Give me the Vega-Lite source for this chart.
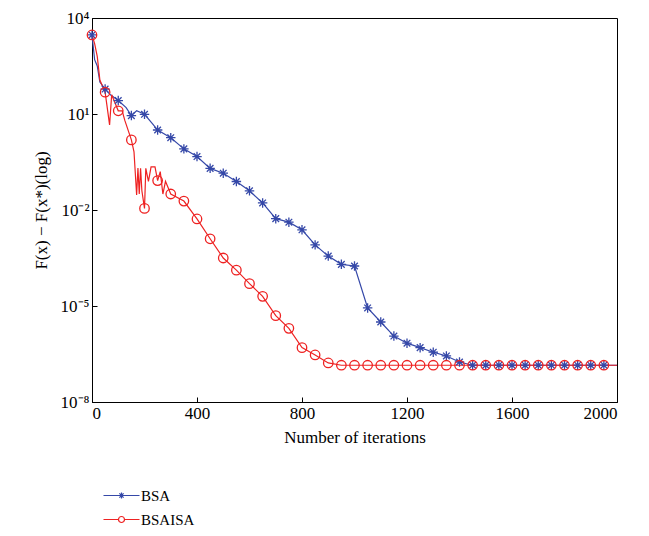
{
  "$schema": "https://vega.github.io/schema/vega-lite/v6.json",
  "width": 525,
  "height": 384,
  "autosize": "none",
  "padding": {"left": 92, "top": 18, "right": 32, "bottom": 134},
  "config": {
    "font": "Liberation Serif",
    "view": {"stroke": "black", "strokeWidth": 1},
    "axis": {"labelFont": "Liberation Serif", "titleFont": "Liberation Serif", "labelFontSize": 17, "titleFontSize": 17, "titleFontWeight": "normal", "labelColor": "black", "titleColor": "black", "domainColor": "black", "tickColor": "black", "tickSize": -5, "grid": false, "labelPadding": 8}
  },
  "data": {"values": [
    {"s":"BSA","it":0,"v":2951,"m":1},{"s":"BSA","it":10,"v":501,"m":0},{"s":"BSA","it":20,"v":316,"m":0},{"s":"BSA","it":30,"v":100,"m":0},
    {"s":"BSA","it":50,"v":60.3,"m":1},{"s":"BSA","it":70,"v":39.8,"m":0},{"s":"BSA","it":100,"v":26.3,"m":1},{"s":"BSA","it":130,"v":15.8,"m":0},
    {"s":"BSA","it":150,"v":8.91,"m":1},{"s":"BSA","it":170,"v":12.6,"m":0},{"s":"BSA","it":200,"v":9.77,"m":1},{"s":"BSA","it":230,"v":5.01,"m":0},
    {"s":"BSA","it":250,"v":3.16,"m":1},{"s":"BSA","it":300,"v":1.82,"m":1},{"s":"BSA","it":350,"v":0.813,"m":1},{"s":"BSA","it":400,"v":0.468,"m":1},
    {"s":"BSA","it":450,"v":0.2,"m":1},{"s":"BSA","it":500,"v":0.141,"m":1},{"s":"BSA","it":550,"v":0.0776,"m":1},{"s":"BSA","it":600,"v":0.0398,"m":1},
    {"s":"BSA","it":650,"v":0.0166,"m":1},{"s":"BSA","it":700,"v":0.00537,"m":1},{"s":"BSA","it":750,"v":0.00417,"m":1},{"s":"BSA","it":800,"v":0.0024,"m":1},
    {"s":"BSA","it":850,"v":0.000813,"m":1},{"s":"BSA","it":900,"v":0.000363,"m":1},{"s":"BSA","it":950,"v":0.0002,"m":1},{"s":"BSA","it":1000,"v":0.000178,"m":1},
    {"s":"BSA","it":1050,"v":8.7e-6,"m":1},{"s":"BSA","it":1100,"v":3.16e-6,"m":1},{"s":"BSA","it":1150,"v":1.15e-6,"m":1},{"s":"BSA","it":1200,"v":6.9e-7,"m":1},
    {"s":"BSA","it":1250,"v":5.0e-7,"m":1},{"s":"BSA","it":1300,"v":3.6e-7,"m":1},{"s":"BSA","it":1350,"v":2.75e-7,"m":1},{"s":"BSA","it":1400,"v":1.78e-7,"m":1},
    {"s":"BSA","it":1450,"v":1.41e-7,"m":1},{"s":"BSA","it":1500,"v":1.41e-7,"m":1},{"s":"BSA","it":1550,"v":1.41e-7,"m":1},{"s":"BSA","it":1600,"v":1.41e-7,"m":1},
    {"s":"BSA","it":1650,"v":1.41e-7,"m":1},{"s":"BSA","it":1700,"v":1.41e-7,"m":1},{"s":"BSA","it":1750,"v":1.41e-7,"m":1},{"s":"BSA","it":1800,"v":1.41e-7,"m":1},
    {"s":"BSA","it":1850,"v":1.41e-7,"m":1},{"s":"BSA","it":1900,"v":1.41e-7,"m":1},{"s":"BSA","it":1950,"v":1.41e-7,"m":1},{"s":"BSA","it":2000,"v":1.41e-7,"m":0},
    {"s":"BSAISA","it":0,"v":2951,"m":1},{"s":"BSAISA","it":10,"v":1585,"m":0},{"s":"BSAISA","it":20,"v":631,"m":0},{"s":"BSAISA","it":30,"v":115,"m":0},
    {"s":"BSAISA","it":50,"v":47.9,"m":1},{"s":"BSAISA","it":67,"v":4.57,"m":0},{"s":"BSAISA","it":75,"v":39.8,"m":0},{"s":"BSAISA","it":100,"v":12.6,"m":1},
    {"s":"BSAISA","it":115,"v":12.6,"m":0},{"s":"BSAISA","it":125,"v":6.3,"m":0},{"s":"BSAISA","it":150,"v":1.55,"m":1},{"s":"BSAISA","it":160,"v":0.66,"m":0},
    {"s":"BSAISA","it":170,"v":0.0295,"m":0},{"s":"BSAISA","it":175,"v":0.204,"m":0},{"s":"BSAISA","it":180,"v":0.0316,"m":0},{"s":"BSAISA","it":185,"v":0.2,"m":0},
    {"s":"BSAISA","it":190,"v":0.04,"m":0},{"s":"BSAISA","it":200,"v":0.0112,"m":1},{"s":"BSAISA","it":205,"v":0.2,"m":0},{"s":"BSAISA","it":215,"v":0.079,"m":0},
    {"s":"BSAISA","it":225,"v":0.224,"m":0},{"s":"BSAISA","it":240,"v":0.224,"m":0},{"s":"BSAISA","it":250,"v":0.083,"m":1},{"s":"BSAISA","it":260,"v":0.158,"m":0},
    {"s":"BSAISA","it":270,"v":0.0316,"m":0},{"s":"BSAISA","it":280,"v":0.079,"m":0},{"s":"BSAISA","it":300,"v":0.0316,"m":1},{"s":"BSAISA","it":350,"v":0.019,"m":1},
    {"s":"BSAISA","it":400,"v":0.00525,"m":1},{"s":"BSAISA","it":450,"v":0.00126,"m":1},{"s":"BSAISA","it":500,"v":0.000316,"m":1},{"s":"BSAISA","it":550,"v":0.000132,"m":1},
    {"s":"BSAISA","it":600,"v":5.0e-5,"m":1},{"s":"BSAISA","it":650,"v":2.0e-5,"m":1},{"s":"BSAISA","it":700,"v":5.0e-6,"m":1},{"s":"BSAISA","it":750,"v":2.0e-6,"m":1},
    {"s":"BSAISA","it":800,"v":5.0e-7,"m":1},{"s":"BSAISA","it":850,"v":2.95e-7,"m":1},{"s":"BSAISA","it":900,"v":1.66e-7,"m":1},{"s":"BSAISA","it":950,"v":1.41e-7,"m":1},
    {"s":"BSAISA","it":1000,"v":1.41e-7,"m":1},{"s":"BSAISA","it":1050,"v":1.41e-7,"m":1},{"s":"BSAISA","it":1100,"v":1.41e-7,"m":1},{"s":"BSAISA","it":1150,"v":1.41e-7,"m":1},
    {"s":"BSAISA","it":1200,"v":1.41e-7,"m":1},{"s":"BSAISA","it":1250,"v":1.41e-7,"m":1},{"s":"BSAISA","it":1300,"v":1.41e-7,"m":1},{"s":"BSAISA","it":1350,"v":1.41e-7,"m":1},
    {"s":"BSAISA","it":1400,"v":1.41e-7,"m":1},{"s":"BSAISA","it":1450,"v":1.41e-7,"m":1},{"s":"BSAISA","it":1500,"v":1.41e-7,"m":1},{"s":"BSAISA","it":1550,"v":1.41e-7,"m":1},
    {"s":"BSAISA","it":1600,"v":1.41e-7,"m":1},{"s":"BSAISA","it":1650,"v":1.41e-7,"m":1},{"s":"BSAISA","it":1700,"v":1.41e-7,"m":1},{"s":"BSAISA","it":1750,"v":1.41e-7,"m":1},
    {"s":"BSAISA","it":1800,"v":1.41e-7,"m":1},{"s":"BSAISA","it":1850,"v":1.41e-7,"m":1},{"s":"BSAISA","it":1900,"v":1.41e-7,"m":1},{"s":"BSAISA","it":1950,"v":1.41e-7,"m":1},
    {"s":"BSAISA","it":2000,"v":1.41e-7,"m":0}
  ]},
  "encoding": {
    "x": {"field": "it", "type": "quantitative", "scale": {"domain": [0, 2000], "nice": false}, "axis": {"values": [0, 400, 800, 1200, 1600, 2000], "format": "d", "title": "Number of iterations", "titlePadding": 8}},
    "y": {"field": "v", "type": "quantitative", "scale": {"type": "log", "domain": [1e-8, 10000], "nice": false}, "axis": {"values": [1e-8, 1e-5, 0.01, 10, 10000], "labelExpr": "datum.value >= 10000 ? '10⁴' : datum.value >= 10 ? '10¹' : datum.value >= 0.001 ? '10⁻²' : datum.value >= 1e-6 ? '10⁻⁵' : '10⁻⁸'", "title": "F(x) − F(x*)(log)", "titlePadding": 10}}
  },
  "layer": [
    {"mark": {"type": "line", "interpolate": "linear", "strokeWidth": 1.2},
     "encoding": {"color": {"field": "s", "type": "nominal", "scale": {"domain": ["BSA", "BSAISA"], "range": ["#3548a8", "#ee2222"]}, "legend": null}}},
    {
      "transform": [{"filter": "datum.m == 1"}],
      "mark": {"type": "point", "filled": false, "strokeWidth": 1.3, "opacity": 1},
      "encoding": {
        "color": {"field": "s", "type": "nominal", "scale": {"domain": ["BSA", "BSAISA"], "range": ["#3548a8", "#ee2222"]}, "legend": null},
        "shape": {"field": "s", "type": "nominal", "scale": {"domain": ["BSA", "BSAISA"], "range": ["M-1,0L1,0M0,-1L0,1M-0.7,-0.7L0.7,0.7M-0.7,0.7L0.7,-0.7", "circle"]}, "legend": null},
        "size": {"value": 90}
      }
    },
    {
      "transform": [{"filter": "datum.it == 0"}],
      "mark": {"type": "point", "filled": false, "opacity": 0},
      "encoding": {
        "color": {"field": "s", "type": "nominal", "scale": {"domain": ["BSA", "BSAISA"], "range": ["#3548a8", "#ee2222"]},
          "legend": {"title": null, "orient": "none", "legendX": 22, "legendY": 470, "symbolSize": 144, "symbolOpacity": 1, "symbolStrokeWidth": 1.2, "labelFontSize": 15, "labelFont": "Liberation Serif", "labelColor": "black", "rowPadding": 8, "labelOffset": 12}},
        "shape": {"field": "s", "type": "nominal", "scale": {"domain": ["BSA", "BSAISA"], "range": ["M-3,0L3,0M-0.5,0L0.5,0M0,-0.5L0,0.5M-0.35,-0.35L0.35,0.35M-0.35,0.35L0.35,-0.35", "M-3,0L-0.5,0M0.5,0L3,0M-0.5,0A0.5,0.5 0 1,0 0.5,0A0.5,0.5 0 1,0 -0.5,0"]},
          "legend": {"title": null, "orient": "none", "legendX": 22, "legendY": 470, "symbolSize": 144, "symbolOpacity": 1, "symbolStrokeWidth": 1.2, "labelFontSize": 15, "labelFont": "Liberation Serif", "labelColor": "black", "rowPadding": 8, "labelOffset": 12}}
      }
    }
  ],
  "resolve": {"scale": {"shape": "independent", "color": "independent"}, "legend": {"shape": "independent", "color": "independent"}}
}
